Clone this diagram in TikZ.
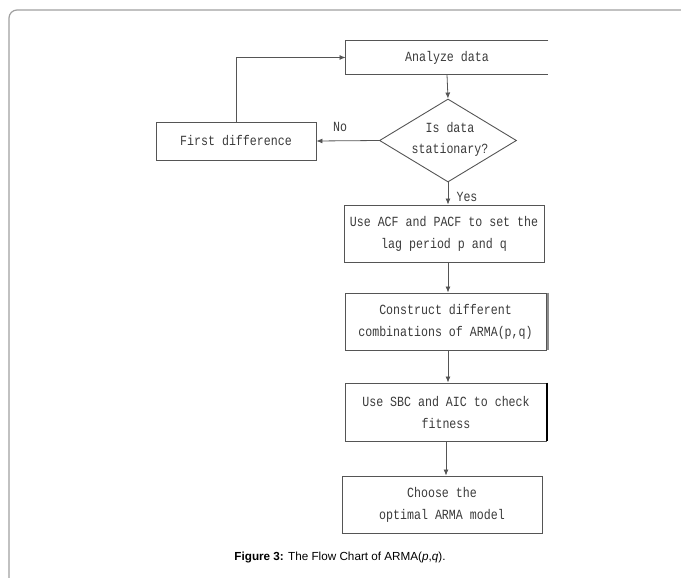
\documentclass[tikz,border=0pt]{standalone}
\usepackage{fontspec}
\setmainfont{Liberation Sans}
\newfontfamily\boxfont[FakeStretch=0.83]{Liberation Mono}
\usetikzlibrary{shapes.geometric,arrows.meta}
\definecolor{linegray}{HTML}{555555}
\definecolor{textgray}{HTML}{3A3A3A}
\definecolor{framegray}{HTML}{A0A0A0}

\begin{document}
\begin{tikzpicture}[x=1pt,y=-1pt,
    box/.style={draw=linegray, line width=0.9pt, minimum width=201pt, minimum height=57pt,
        inner sep=0pt, align=center, text=textgray, font=\boxfont\fontsize{14}{22}\selectfont},
    decision/.style={draw=linegray, line width=0.9pt, diamond, inner sep=0pt,
        minimum width=137pt, minimum height=83pt},
    arr/.style={draw=linegray, line width=0.8pt, -{Latex[length=6pt,width=5pt]}},
    lbl/.style={text=textgray, align=center, font=\boxfont\fontsize{14}{21}\selectfont}]
    \useasboundingbox (0,0) rectangle (681,578);

    % outer frame
    \draw[framegray, line width=1.2pt, rounded corners=8pt] (9,578) |- (681,10);

    % top box, open on the right
    \node[box, draw=none, minimum width=202pt, minimum height=33pt] (analyze) at (447,57.5) {Analyze data};
    \draw[linegray, line width=1.4pt] (analyze.north east) -- (analyze.north west)
        -- (analyze.south west) -- (analyze.south east);

    % test and the loop back
    \node[decision] (stat) at (448,140.5) {};
    \node[lbl] (stattext) at (450,139) {Is data\\stationary?};
    \node[box, minimum width=160pt, minimum height=38pt] (firstdiff) at (236,141) {First difference};
    \node[lbl] (no) at (340,127) {No};
    \node[lbl] (yes) at (467,197) {Yes};

    % main steps
    \node[box, minimum width=200pt] (acf) at (444,233.5) {Use ACF and PACF to set the\\lag period p and q};
    \node[box] (construct) at (445.5,321.5) {Construct different\\combinations of ARMA(p,q)};
    \node[box, minimum height=58pt] (sbc) at (446,412) {Use SBC and AIC to check\\fitness};
    \node[box, minimum width=200pt] (choose) at (442,504.5) {Choose the\\optimal ARMA model};

    % scan marks on the box edges
    \draw[black!45, line width=2pt] ([xshift=1.5pt]construct.north east) -- ([xshift=1.5pt]construct.south east);
    \draw[black, line width=2pt] (sbc.north east) -- (sbc.south east);
    \draw[linegray, line width=1.8pt] (choose.south west) -- (choose.south east);

    % connectors
    \draw[arr] (analyze.south) -- (stat.north);
    \draw[arr] (stat.west) -- (firstdiff.east);
    \draw[arr] (firstdiff.north) |- (analyze.west);
    \draw[arr] (stat.south) -- (stat.south |- acf.north);
    \draw[arr] (stat.south |- acf.south) -- (stat.south |- construct.north);
    \draw[arr] (stat.south |- construct.south) -- (stat.south |- sbc.north);
    \draw[arr] (sbc.south) -- (sbc.south |- choose.north);

    % caption
    \node (caption) at (340,557) {\fontsize{11.7}{14}\selectfont\textbf{Figure 3:} The Flow Chart of ARMA(\textit{p},\textit{q}).};
\end{tikzpicture}
\end{document}
